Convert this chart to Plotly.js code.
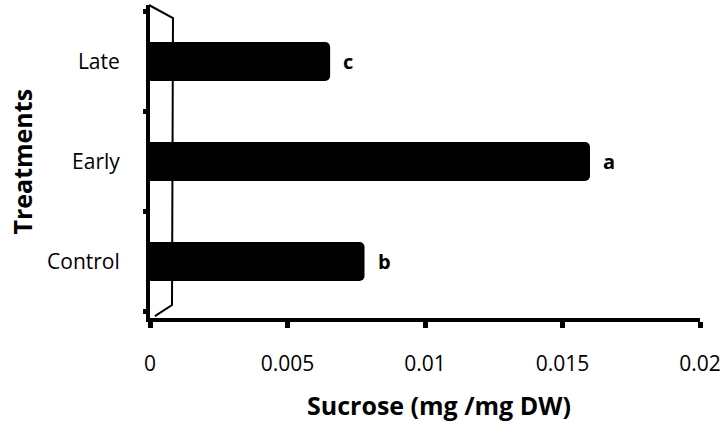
<!DOCTYPE html>
<html><head><meta charset="utf-8">
<script src="https://cdn.plot.ly/plotly-3.0.1.min.js"></script>
<style>html,body{margin:0;padding:0;background:#fff}</style>
</head><body>
<div id="chart" style="width:721px;height:426px"></div>
<script>
const categories = ["Control", "Early", "Late"];
const sucrose = [0.0078, 0.0160, 0.00655];
const letters = ["b", "a", "c"];
const xTicks = [0, 0.005, 0.01, 0.015, 0.02];
const xTickLabels = ["0", "0.005", "0.01", "0.015", "0.02"];

const font = "Open Sans, Liberation Sans, sans-serif";

const trace = {
  type: "bar",
  orientation: "h",
  y: categories,
  x: sucrose,
  width: 0.39,
  marker: {color: "#000", cornerradius: 5, line: {width: 0}},
  hoverinfo: "none"
};

const annotations = categories.map((c, i) => ({
  x: sucrose[i], y: c, xref: "x", yref: "y",
  text: letters[i], showarrow: false, xanchor: "left", xshift: 11,
  font: {family: font, size: 20, color: "#000", weight: "bold"}
}));
annotations.push({
  xref: "paper", yref: "paper", x: 0.525, y: -0.278, xanchor: "center", yanchor: "middle",
  text: "Sucrose (mg /mg DW)", showarrow: false,
  font: {family: font, size: 25, color: "#000", weight: "bold"}
});
annotations.push({
  xref: "paper", yref: "paper", x: -0.2345, y: 0.5, xanchor: "center", yanchor: "middle",
  text: "Treatments", showarrow: false, textangle: -90,
  font: {family: font, size: 25, color: "#000", weight: "bold"}
});

const layout = {
  width: 721, height: 426,
  margin: {l: 150, r: 21, t: 5, b: 108},
  paper_bgcolor: "#fff", plot_bgcolor: "#fff",
  showlegend: false,
  xaxis: {
    range: [0, 0.02], tickvals: xTicks, ticktext: xTickLabels,
    showgrid: false, zeroline: false, showline: true, linecolor: "#000", linewidth: 4,
    ticks: "outside", ticklen: 6, tickwidth: 5, tickcolor: "#000",
    ticklabelstandoff: 18,
    tickfont: {family: font, size: 21, color: "#000"}
  },
  yaxis: {
    type: "category", categoryorder: "array", categoryarray: categories,
    range: [-0.565, 2.565],
    showgrid: false, zeroline: false, showline: true, linecolor: "#000", linewidth: 4,
    ticks: "outside", tickson: "boundaries", ticklen: 3, tickwidth: 5, tickcolor: "#000",
    ticklabelstandoff: 22,
    tickfont: {family: font, size: 21, color: "#000"}
  },
  shapes: [{
    type: "path", xref: "paper", yref: "paper", layer: "below",
    path: "M -0.002,1 L 0.0418,0.958 L 0.04,0.0415 L 0.009,0.006",
    line: {color: "#000", width: 2}
  }],
  annotations: annotations
};

Plotly.newPlot("chart", [trace], layout, {displayModeBar: false, staticPlot: true});
</script>
</body></html>
